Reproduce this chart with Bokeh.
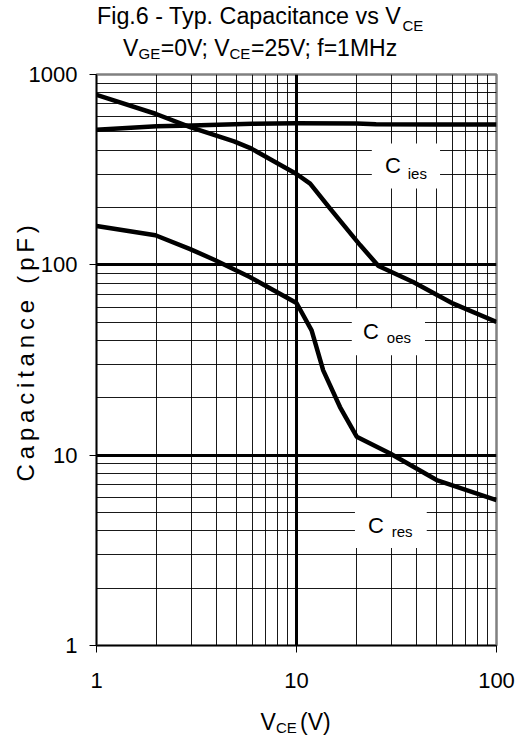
import numpy as np
from bokeh.plotting import figure
from bokeh.layouts import column
from bokeh.models import FixedTicker, Label, BoxAnnotation, Range1d, BasicTickFormatter
from bokeh.embed import file_html
from bokeh.resources import INLINE

# ---- data ----
vce_ies = [1, 2, 3, 6, 10, 20, 25, 50, 100]
c_ies = [513, 535, 540, 551, 555, 553, 547, 546, 546]

vce_oes = [1, 1.97, 2.94, 4.87, 5.84, 10, 11.7, 14.7, 20.8, 25.7, 38.3, 60.8, 100]
c_oes = [782, 622, 529, 445, 412, 300, 267, 198, 127, 98.6, 81.3, 62.5, 50.1]

vce_res = [1, 1.97, 2.94, 3.9, 5.84, 10, 11.9, 13.6, 16.5, 20.0, 29.4, 50.2, 100]
c_res = [160, 143, 121, 106, 86.3, 63, 45.3, 27.9, 17.9, 12.5, 10.2, 7.4, 5.8]

x_ticks = [1, 10, 100]
y_ticks = [1, 10, 100, 1000]
x_minor = [2, 3, 4, 5, 6, 7, 8, 9, 20, 30, 40, 50, 60, 70, 80, 90]
y_minor = [2, 3, 4, 5, 6, 7, 8, 9, 20, 30, 40, 50, 60, 70, 80, 90,
           200, 300, 400, 500, 600, 700, 800, 900]

FONT = "Liberation Sans"
W = 528
LEFT, RIGHT = 96, 32          # frame spans 96..496 horizontally
FW = W - LEFT - RIGHT


def text_fig(height):
    f = figure(width=W, height=height, title=None,
               x_range=Range1d(LEFT, LEFT + FW), y_range=Range1d(0, height),
               min_border_left=LEFT, min_border_right=RIGHT,
               min_border_top=0, min_border_bottom=0,
               x_axis_location=None, y_axis_location=None,
               output_backend="svg", toolbar_location=None)
    f.outline_line_color = None
    f.background_fill_color = "white"
    f.border_fill_color = "white"
    f.grid.visible = False
    return f


def put(f, x, y, text, size):
    f.add_layout(Label(x=x, y=y, text=text, text_font=FONT, text_font_size=size,
                       text_color="black", text_baseline="alphabetic", text_align="left"))


# ---- title (two lines with subscripts) ----
TH = 61
t = text_fig(TH)
put(t, 96.5, 45.5, "Fig.6 - Typ. Capacitance vs V", "23.3px")
put(t, 402, 36.5, "CE", "15px")
put(t, 122.5, 13.3, "V", "23px")
put(t, 138, 8.3, "GE", "15px")
put(t, 160.3, 13.3, "=0V; V", "23px")
put(t, 229, 8.3, "CE", "15px")
put(t, 250.5, 13.3, "=25V; f=1MHz", "23px")

# ---- main chart ----
MH = 642
p = figure(x_axis_type="log", y_axis_type="log", title=None,
           x_range=Range1d(1, 100), y_range=Range1d(1, 1000),
           width=W, height=MH,
           min_border_left=LEFT, min_border_right=RIGHT,
           min_border_top=13, min_border_bottom=58,
           output_backend="svg", toolbar_location=None)
p.background_fill_color = "white"
p.border_fill_color = "white"
p.outline_line_color = "#808080"
p.outline_line_width = 2.5

for ax, ticks in ((p.xaxis, x_ticks), (p.yaxis, y_ticks)):
    ax.ticker = FixedTicker(ticks=ticks)
    ax.formatter = BasicTickFormatter()
    ax.major_tick_out = 7
    ax.major_tick_in = 0
    ax.minor_tick_out = 0
    ax.minor_tick_in = 0
    ax.axis_line_color = "black"
    ax.axis_line_width = 1.5
    ax.major_tick_line_color = "black"
    ax.major_label_text_font = FONT
    ax.major_label_text_font_size = "22px"
    ax.major_label_text_color = "black"
p.xaxis.major_label_standoff = 20
p.yaxis.major_label_standoff = 12

TS = "\u2009"
ylab = "\u00a0\u00a0" + TS.join("Capacitance") + TS + " " + TS + TS.join("(pF)")
p.yaxis.axis_label = ylab
p.yaxis.axis_label_text_font = FONT
p.yaxis.axis_label_text_font_size = "24px"
p.yaxis.axis_label_text_font_style = "normal"
p.yaxis.axis_label_text_color = "black"
p.yaxis.axis_label_standoff = -13

p.xgrid.ticker = FixedTicker(ticks=[10], minor_ticks=x_minor)
p.ygrid.ticker = FixedTicker(ticks=[10, 100], minor_ticks=y_minor)
for g in (p.xgrid, p.ygrid):
    g.grid_line_color = "black"
    g.grid_line_width = 3
    g.minor_grid_line_color = "black"
    g.minor_grid_line_width = 1
    g.minor_grid_line_alpha = 0.9

for xs, ys in ((vce_ies, c_ies), (vce_oes, c_oes), (vce_res, c_res)):
    p.line(xs, ys, line_color="black", line_width=4.5, line_join="round")

# curve name boxes (white background) and labels
boxes = [(23.8, 52.2, 252, 434), (18.9, 43.9, 33.5, 59.1), (19.6, 44.8, 3.25, 5.95)]
for l, r, b, tp in boxes:
    p.add_layout(BoxAnnotation(left=l, right=r, bottom=b, top=tp,
                               fill_color="white", fill_alpha=1.0,
                               line_color=None))

names = [("ies", 27.7, 330.7, 36.0, 302.1),
         ("oes", 21.5, 44.9, 28.3, 41.4),
         ("res", 22.8, 4.281, 29.9, 3.957)]
for sub, cx, cy, sx, sy in names:
    p.add_layout(Label(x=cx, y=cy, text="C", text_font=FONT, text_font_size="22px",
                       text_color="black", text_baseline="alphabetic", text_align="left"))
    p.add_layout(Label(x=sx, y=sy, text=sub, text_font=FONT, text_font_size="15px",
                       text_color="black", text_baseline="alphabetic", text_align="left"))

# ---- x axis title ----
XH = 736 - TH - MH
xl = text_fig(XH)
put(xl, 260, 14.2, "V", "23px")
put(xl, 275.5, 9.1, "CE", "15px")
put(xl, 299.5, 14.2, "(V)", "23px")

layout = column(t, p, xl, spacing=0)
open("out.html", "w").write(file_html(layout, INLINE))
